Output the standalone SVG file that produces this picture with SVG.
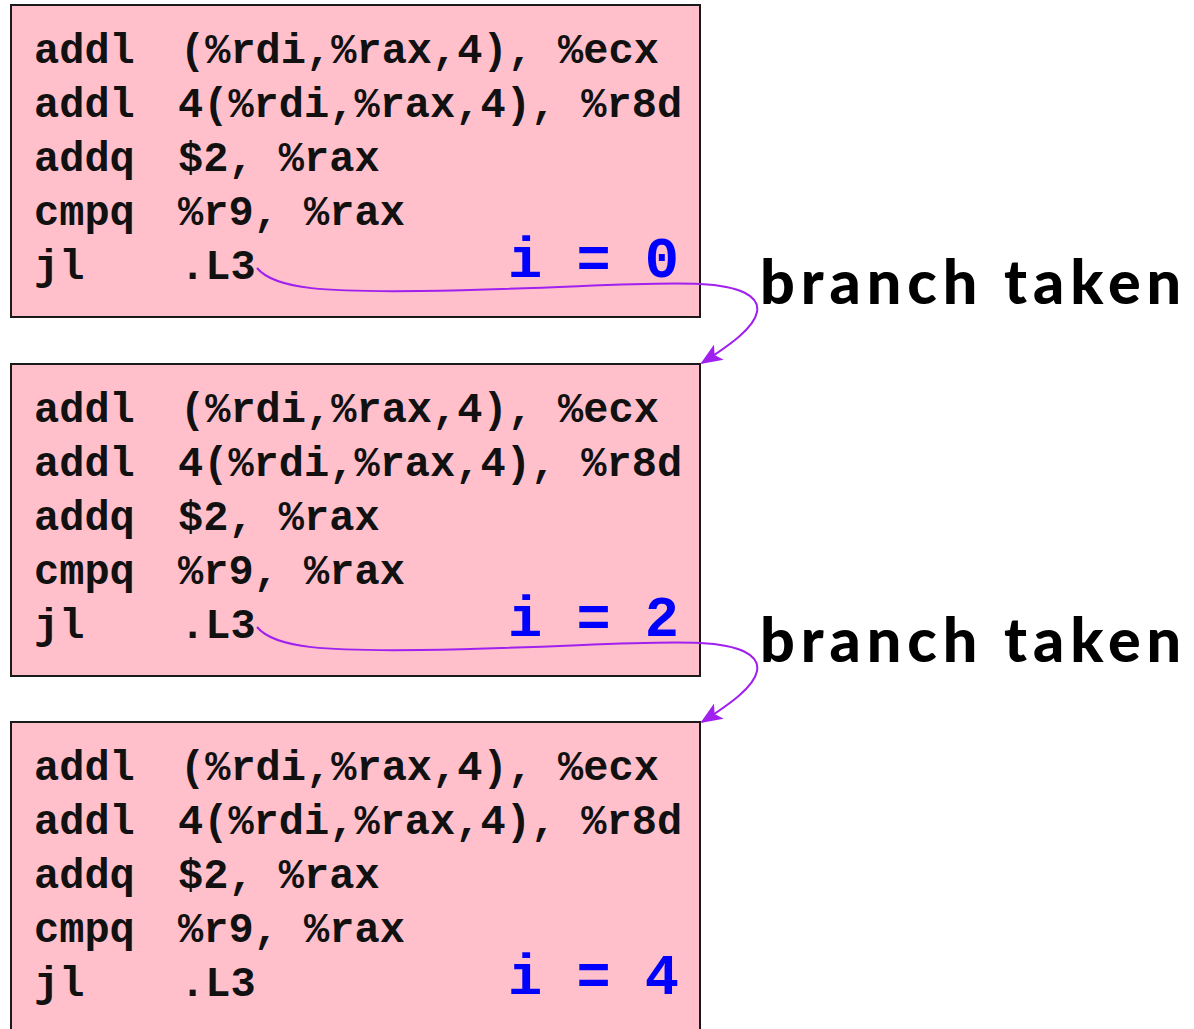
<svg xmlns="http://www.w3.org/2000/svg" width="1194" height="1029" viewBox="0 0 1194 1029">
  <style>
    .box { fill: #FFC0CB; stroke: #1a1a1a; stroke-width: 2; }
    .code { font-family: "Liberation Mono", "Courier New", monospace; font-weight: bold; font-size: 42px; fill: #111; }
    .idx { font-family: "Liberation Mono", "Courier New", monospace; font-weight: bold; font-size: 57px; fill: #0000FF; }
    .lbl { font-family: Lato, "Open Sans", sans-serif; font-weight: 900; font-size: 61px; letter-spacing: 6px; fill: #000; }
    .arc { fill: none; stroke: #A020F0; stroke-width: 2; }
  </style>
  <defs>
    <marker id="head" markerWidth="22" markerHeight="18" refX="20" refY="9" orient="auto" markerUnits="userSpaceOnUse">
      <path d="M0,0 L22,9 L0,18 L5,9 Z" fill="#A020F0"/>
    </marker>
    <g id="loop-body">
      <rect class="box" x="11" y="5" width="689" height="312"/>
      <text class="code" x="34" y="63">addl</text>
      <text class="code" x="180" y="63">(%rdi,%rax,4), %ecx</text>
      <text class="code" x="34" y="117">addl</text>
      <text class="code" x="178" y="117">4(%rdi,%rax,4), %r8d</text>
      <text class="code" x="34" y="171">addq</text>
      <text class="code" x="178" y="171">$2, %rax</text>
      <text class="code" x="34" y="225">cmpq</text>
      <text class="code" x="178" y="225">%r9, %rax</text>
      <text class="code" x="34" y="279">jl</text>
      <text class="code" x="180" y="279">.L3</text>
    </g>
  </defs>

  <g id="iter0">
    <use href="#loop-body"/>
    <text class="idx" x="679" y="277" text-anchor="end">i = 0</text>
  </g>
  <g id="iter2">
    <use href="#loop-body" y="359"/>
    <text class="idx" x="679" y="636" text-anchor="end">i = 2</text>
  </g>
  <g id="iter4">
    <use href="#loop-body" y="717"/>
    <text class="idx" x="679" y="994" text-anchor="end">i = 4</text>
  </g>

  <g id="labels">
    <text class="lbl" x="760" y="304">branch taken</text>
    <text class="lbl" x="760" y="662">branch taken</text>
  </g>

  <g id="connectors">
    <path class="arc" marker-end="url(#head)" d="M257,268 C275,290 330,292 420,291 C560,289 640,281 700,284 C740,286 760,296 757,312 C754,328 730,345 702,363"/>
    <path class="arc" marker-end="url(#head)" d="M257,627 C275,649 330,651 420,650 C560,648 640,640 700,643 C740,645 760,655 757,671 C754,687 730,704 702,722"/>
  </g>
</svg>
